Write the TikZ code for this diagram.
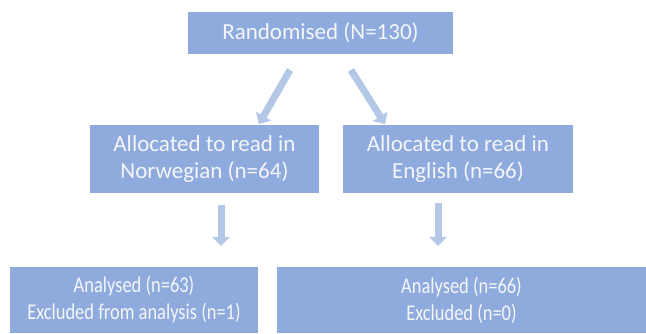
\documentclass[tikz,border=0pt]{standalone}
\usepackage{fontspec}
\setmainfont{Carlito}
\newfontfamily\narrowfont[FakeStretch=0.82]{Carlito}
\usetikzlibrary{arrows.meta}
\definecolor{boxblue}{HTML}{8FAADC}
\definecolor{arrowblue}{HTML}{B4C7E7}
\definecolor{txt}{HTML}{F4F6FA}
\tikzset{
  box/.style={fill=boxblue, draw=none, text=txt, align=center, inner sep=0pt, font=\fontsize{23}{27}\selectfont},
  narrowbox/.style={box, font=\narrowfont\fontsize{22.5}{27}\selectfont},
  bigarrow/.style={draw=arrowblue, line width=7pt, -{Triangle[length=9pt,width=17pt]}},
}
\begin{document}
\begin{tikzpicture}[x=1pt,y=-1pt]
\useasboundingbox (0,0) rectangle (646,333);
\node[box, minimum width=265pt, minimum height=42pt] (top) at (320.5,33) {Randomised (N=130)};
\node[box, minimum width=229pt, minimum height=68pt] (midL) at (204.5,159) {Allocated to read in\\Norwegian (n=64)};
\node[box, minimum width=230pt, minimum height=68pt] (midR) at (458,159) {Allocated to read in\\English (n=66)};
\node[narrowbox, minimum width=248pt, minimum height=66pt] (botL) at (134,300) {Analysed (n=63)\\Excluded from analysis (n=1)};
\node[narrowbox, minimum width=369pt, minimum height=66pt] (botR) at (461.5,300) {Analysed (n=66)\\Excluded (n=0)};
\coordinate (a1s) at (290,70);
\coordinate (a1e) at (259,124);
\coordinate (a2s) at (351,70);
\coordinate (a2e) at (385,124);
\coordinate (a3s) at (221,205);
\coordinate (a3e) at (221,246);
\coordinate (a4s) at (438,203);
\coordinate (a4e) at (438,246);
\draw[bigarrow] (a1s) -- (a1e);
\draw[bigarrow] (a2s) -- (a2e);
\draw[bigarrow] (a3s) -- (a3e);
\draw[bigarrow] (a4s) -- (a4e);
\end{tikzpicture}
\end{document}
